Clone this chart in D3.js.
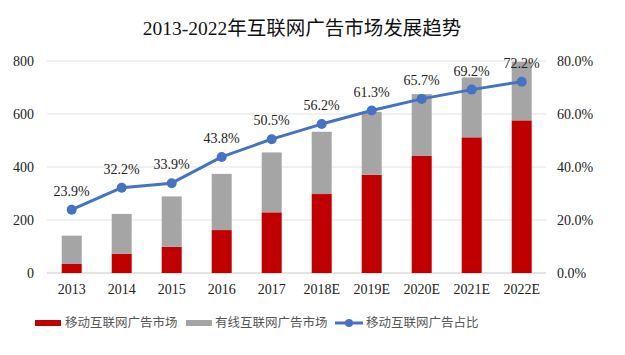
<!DOCTYPE html>
<html><head><meta charset="utf-8">
<script src="https://cdn.jsdelivr.net/npm/d3@7"></script>
<style>body{margin:0;background:#fff}svg{display:block}</style>
</head><body>
<script>
const categories = ["2013","2014","2015","2016","2017","2018E","2019E","2020E","2021E","2022E"];
const mobile = [34, 73, 99, 162, 229, 298, 371, 443, 512, 576];
const wired = [107, 150, 190, 212, 226, 235, 237, 232, 226, 221];
const share = [23.9, 32.2, 33.9, 43.8, 50.5, 56.2, 61.3, 65.7, 69.2, 72.2];
const leftTicks = [0, 200, 400, 600, 800];
const rightTicks = [0, 20, 40, 60, 80];
const seriesNames = ["移动互联网广告市场", "有线互联网广告市场", "移动互联网广告占比"];
const title = "2013-2022年互联网广告市场发展趋势";

const W = 625, H = 355;
const serif = "'Liberation Serif','Times New Roman','Noto Sans CJK SC',serif";
const cjk = "'Liberation Serif','Noto Sans CJK SC',sans-serif";
const svg = d3.select("body").append("svg").attr("width", W).attr("height", H);

const x = d3.scaleBand().domain(categories).range([46.7, 546.7]).paddingInner(0.6).paddingOuter(0.3);
const y = d3.scaleLinear().domain([0, 800]).range([273, 61]);
const y2 = d3.scaleLinear().domain([0, 80]).range([273, 61]);

svg.append("text").attr("x", 302).attr("y", 35).attr("text-anchor", "middle")
  .style("font-family", cjk).style("font-size", "19.5px").attr("fill", "#111").text(title);

// grid
svg.append("g").selectAll("line").data(leftTicks).join("line")
  .attr("x1", 47).attr("x2", 546).attr("y1", d => y(d)).attr("y2", d => y(d))
  .attr("stroke", d => d === 0 ? "#c8c8c8" : "#e2e2e2").attr("stroke-width", 1);

// left axis
const la = svg.append("g").attr("transform", "translate(34,0)")
  .call(d3.axisLeft(y).tickValues(leftTicks).tickSize(0).tickPadding(0));
la.select(".domain").remove();
la.selectAll("text").style("font-family", serif).style("font-size", "14px").attr("fill", "#222");

// right axis
const ra = svg.append("g").attr("transform", "translate(557,0)")
  .call(d3.axisRight(y2).tickValues(rightTicks).tickSize(0).tickPadding(0).tickFormat(d => d.toFixed(1) + "%"));
ra.select(".domain").remove();
ra.selectAll("text").style("font-family", serif).style("font-size", "14px").attr("fill", "#222");

// x axis
const xa = svg.append("g").attr("transform", "translate(0,281)")
  .call(d3.axisBottom(x).tickSize(0).tickPadding(0));
xa.select(".domain").remove();
xa.selectAll("text").attr("dy", "0.9em").style("font-family", serif).style("font-size", "14px").attr("fill", "#222");

// bars
svg.append("g").selectAll("rect.m").data(categories).join("rect")
  .attr("x", d => x(d)).attr("width", x.bandwidth())
  .attr("y", (d, i) => y(mobile[i])).attr("height", (d, i) => y(0) - y(mobile[i]))
  .attr("fill", "#C00000");
svg.append("g").selectAll("rect.w").data(categories).join("rect")
  .attr("x", d => x(d)).attr("width", x.bandwidth())
  .attr("y", (d, i) => y(mobile[i] + wired[i])).attr("height", (d, i) => y(mobile[i]) - y(mobile[i] + wired[i]))
  .attr("fill", "#A5A5A5");

// line
const cx = d => x(d) + x.bandwidth() / 2;
const line = d3.line().x((d, i) => cx(categories[i])).y(d => y2(d));
svg.append("path").datum(share).attr("d", line).attr("fill", "none")
  .attr("stroke", "#4472C4").attr("stroke-width", 3).attr("stroke-linejoin", "round");
svg.append("g").selectAll("circle").data(share).join("circle")
  .attr("cx", (d, i) => cx(categories[i])).attr("cy", d => y2(d)).attr("r", 5).attr("fill", "#4472C4");
svg.append("g").selectAll("text").data(share).join("text")
  .attr("x", (d, i) => cx(categories[i])).attr("y", d => y2(d) - 14).attr("text-anchor", "middle")
  .style("font-family", serif).style("font-size", "14px").attr("fill", "#222")
  .text(d => d.toFixed(1) + "%");

// legend
const lg = svg.append("g").style("font-family", "'Noto Sans CJK SC',sans-serif").style("font-size", "12.5px");
const ly = 323;
lg.append("rect").attr("x", 35).attr("y", ly - 3).attr("width", 26).attr("height", 6).attr("fill", "#C00000");
lg.append("text").attr("x", 65).attr("y", ly).attr("dy", "0.35em").attr("fill", "#555").text(seriesNames[0]);
lg.append("rect").attr("x", 186).attr("y", ly - 3).attr("width", 26).attr("height", 6).attr("fill", "#A5A5A5");
lg.append("text").attr("x", 215).attr("y", ly).attr("dy", "0.35em").attr("fill", "#555").text(seriesNames[1]);
lg.append("line").attr("x1", 335).attr("x2", 363).attr("y1", ly).attr("y2", ly).attr("stroke", "#4472C4").attr("stroke-width", 3);
lg.append("circle").attr("cx", 349).attr("cy", ly).attr("r", 4).attr("fill", "#4472C4");
lg.append("text").attr("x", 366).attr("y", ly).attr("dy", "0.35em").attr("fill", "#555").text(seriesNames[2]);
</script>
</body></html>
